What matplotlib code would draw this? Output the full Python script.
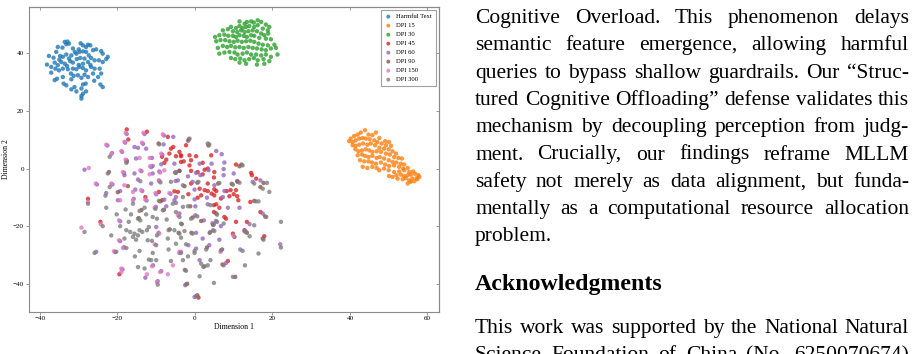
import numpy as np
import matplotlib
matplotlib.use("Agg")
import matplotlib.pyplot as plt
from matplotlib.transforms import IdentityTransform

plt.rcParams['font.family'] = ['Liberation Serif', 'DejaVu Serif']

# t-SNE points (Dimension 1, Dimension 2)
harmful_text = [
    (-33.6, 44.0), (-32.9, 44.1), (-33.2, 43.2), (-32.5, 43.4), (-35.4, 42.2), (-34.2, 42.0),
    (-31.5, 41.7), (-30.0, 41.4), (-28.9, 42.8), (-28.1, 42.2), (-27.6, 43.0), (-27.0, 42.8),
    (-26.3, 41.1), (-25.5, 41.4), (-24.2, 40.8), (-23.8, 39.9), (-22.5, 38.8), (-22.9, 38.0),
    (-37.7, 39.1), (-35.8, 40.5), (-34.8, 39.1), (-34.1, 38.8), (-33.2, 39.6), (-32.5, 38.2),
    (-31.9, 39.3), (-30.6, 39.9), (-29.8, 40.5), (-28.9, 40.7), (-28.1, 40.5), (-27.4, 39.3),
    (-26.8, 38.4), (-25.9, 37.6), (-24.8, 37.6), (-23.8, 37.0), (-38.2, 36.1), (-37.1, 35.3),
    (-36.2, 36.8), (-35.4, 35.9), (-34.5, 37.0), (-33.6, 36.4), (-33.0, 35.6), (-32.2, 37.3),
    (-31.5, 36.8), (-30.5, 38.0), (-29.6, 38.4), (-28.5, 38.2), (-28.9, 36.4), (-27.6, 37.0),
    (-37.1, 33.3), (-36.0, 34.7), (-35.1, 34.1), (-34.1, 34.7), (-32.8, 34.5), (-31.5, 34.7),
    (-30.6, 34.5), (-29.8, 35.3), (-28.9, 34.9), (-28.1, 34.1), (-26.8, 35.3), (-25.9, 34.7),
    (-24.6, 34.7), (-24.2, 33.0), (-25.0, 31.8), (-26.3, 33.0), (-36.2, 30.7), (-35.6, 31.2),
    (-34.1, 31.8), (-33.9, 29.5), (-33.2, 28.9), (-31.9, 31.0), (-31.3, 32.2), (-30.2, 32.4),
    (-29.3, 31.5), (-28.5, 32.6), (-27.6, 31.8), (-31.1, 28.3), (-31.9, 27.5), (-30.6, 26.8),
    (-29.3, 27.8), (-28.9, 29.2), (-28.2, 29.5), (-28.1, 26.8), (-28.9, 26.0), (-29.3, 25.2),
    (-29.3, 24.3), (-24.4, 29.2), (-23.8, 28.3), (-36.5, 38.5), (-30.0, 36.0), (-27.0, 36.0),
    (-32.0, 33.0), (-26.0, 30.5), (-35.0, 37.8), (-31.0, 40.5), (-29.5, 43.5),
]

dpi_15 = [
    (40.2, 10.4), (41.1, 11.3), (42.0, 11.8), (42.8, 12.5), (43.9, 13.3), (44.8, 11.8), (45.8, 11.6),
    (46.7, 12.5), (47.6, 10.6), (49.1, 9.5), (50.1, 9.2), (39.8, 9.5), (40.7, 9.2), (41.5, 9.8),
    (42.4, 10.4), (43.3, 10.6), (44.1, 10.4), (45.1, 10.2), (46.3, 9.8), (47.1, 9.2), (48.2, 8.7),
    (49.3, 8.1), (50.6, 7.9), (40.7, 8.1), (41.5, 7.9), (42.4, 8.3), (43.4, 8.7), (44.5, 8.3),
    (45.4, 8.7), (46.5, 8.1), (47.6, 7.2), (48.8, 6.9), (50.0, 6.7), (51.0, 6.0), (51.9, 5.2),
    (41.4, 6.7), (42.2, 6.0), (43.1, 6.3), (44.1, 6.7), (45.0, 6.3), (45.8, 5.8), (46.9, 6.0),
    (48.0, 5.8), (49.3, 5.2), (50.3, 4.9), (51.4, 4.0), (52.5, 3.7), (53.4, 3.5), (42.0, 4.6),
    (43.1, 4.9), (43.9, 4.4), (44.8, 4.0), (45.8, 4.4), (46.9, 3.7), (47.7, 4.0), (48.8, 3.5),
    (50.0, 2.9), (51.0, 2.3), (52.0, 2.1), (53.1, 1.7), (54.0, 1.4), (42.6, 2.9), (43.7, 2.5),
    (44.8, 2.5), (45.7, 2.1), (46.7, 1.7), (48.0, 2.1), (49.1, 1.4), (50.1, 0.9), (51.4, 1.1),
    (52.7, 0.6), (53.7, 0.0), (54.9, 0.2), (43.3, 0.6), (44.5, 0.2), (45.8, 0.6), (46.9, 0.2),
    (47.6, -0.6), (48.8, 0.0), (50.0, -0.6), (51.4, -1.2), (52.7, -1.0), (54.0, -0.6), (55.3, -1.2),
    (56.3, -1.0), (50.1, -2.6), (51.0, -2.9), (52.0, -2.3), (53.1, -2.1), (54.0, -2.6), (54.9, -2.3),
    (55.7, -2.1), (56.8, -1.8), (57.7, -2.3), (52.3, -3.5), (53.6, -3.7), (54.4, -3.3), (55.3, -4.1),
    (56.1, -3.5), (57.2, -3.3), (57.9, -2.9), (54.9, -5.2), (55.7, -4.6), (56.6, -4.4), (57.4, -3.7),
]

dpi_30 = [
    (11.5, 51.1), (12.8, 50.3), (13.4, 50.9), (14.5, 51.1), (15.2, 50.7), (16.2, 51.5), (17.1, 50.9),
    (18.3, 50.0), (19.2, 49.2), (9.3, 49.2), (10.6, 48.8), (11.5, 49.5), (12.3, 48.8), (13.2, 49.2),
    (14.0, 49.5), (15.3, 49.2), (16.2, 49.8), (17.5, 48.6), (18.8, 48.0), (7.2, 48.0), (8.5, 48.4),
    (9.8, 47.7), (10.9, 47.4), (11.9, 48.0), (12.8, 47.4), (13.8, 47.7), (14.9, 48.0), (16.0, 47.7),
    (17.1, 46.9), (17.9, 46.3), (18.9, 46.9), (5.2, 45.7), (6.3, 46.3), (7.6, 46.5), (8.6, 46.1),
    (9.8, 46.1), (10.6, 45.7), (11.5, 46.3), (12.6, 46.1), (13.4, 45.7), (14.5, 46.3), (15.3, 46.1),
    (16.6, 45.4), (18.3, 45.1), (19.6, 44.9), (5.5, 44.2), (6.6, 44.6), (7.8, 44.6), (8.9, 44.2),
    (10.0, 44.0), (11.0, 44.4), (12.1, 44.0), (13.2, 44.2), (14.3, 44.4), (15.3, 44.0), (16.4, 43.4),
    (17.5, 43.0), (18.8, 42.8), (20.5, 43.0), (5.9, 41.9), (7.2, 42.6), (8.3, 42.2), (9.3, 42.6),
    (10.4, 42.1), (11.5, 42.2), (12.6, 41.9), (13.8, 42.2), (14.9, 41.9), (16.0, 41.7), (17.2, 41.4),
    (18.3, 41.1), (19.6, 41.7), (20.9, 41.9), (6.3, 39.9), (7.6, 40.3), (8.9, 40.5), (10.2, 40.3),
    (11.0, 39.6), (12.3, 39.9), (13.4, 40.3), (14.5, 39.6), (15.8, 39.6), (17.1, 39.3), (18.3, 39.6),
    (19.6, 38.8), (21.3, 39.6), (9.3, 38.4), (10.4, 38.0), (11.7, 38.2), (12.8, 37.6), (14.0, 38.0),
    (15.2, 38.4), (16.2, 37.6), (17.7, 38.0), (19.2, 37.3), (11.5, 36.8), (13.2, 36.4), (16.0, 36.1),
    (17.9, 36.4),
]

dpi_45 = [
    (-17.6, 13.6), (-12.4, 12.8), (-7.0, 11.0), (-17.2, 10.1), (-6.6, 5.2), (-6.2, 6.9), (-5.6, 7.5),
    (-4.0, 5.8), (-3.6, 4.6), (-8.5, 4.1), (-7.4, 3.1), (-7.9, 2.0), (-3.6, 2.3), (-9.3, -8.1),
    (-5.3, -7.9), (-27.6, -10.5), (-12.8, -9.9), (-8.5, -11.0), (-24.4, -18.5), (-19.5, -36.7),
    (-2.3, 8.1), (-3.6, 4.3), (-4.9, 4.3), (-1.4, 4.6), (0.3, 4.3), (4.2, 4.6), (-2.9, 2.5),
    (-1.0, 2.9), (2.0, 2.0), (10.6, 1.4), (-1.4, 1.1), (-1.0, -0.8), (0.7, -1.2), (2.5, -0.4),
    (3.3, 0.0), (5.0, -1.2), (14.5, -1.5), (14.7, -2.3), (15.8, -3.5), (2.0, -2.0), (4.9, -3.1),
    (-1.0, -5.2), (3.3, -5.2), (-4.4, -8.1), (-1.7, -8.9), (1.2, -7.0), (2.5, -7.5), (3.3, -7.8),
    (5.0, -7.2), (5.5, -7.8), (8.2, -7.8), (9.2, -7.5), (10.6, -7.5), (0.7, -10.1), (1.6, -9.3),
    (4.3, -8.7), (5.0, -9.3), (6.7, -10.4), (8.9, -9.6), (10.0, -8.9), (10.9, -9.6), (11.2, -11.0),
    (14.3, -11.6), (4.9, -12.7), (5.5, -12.4), (6.3, -13.6), (4.9, -15.1), (7.6, -16.8), (8.0, -17.4),
    (16.9, -15.1), (10.6, -18.5), (13.4, -18.5), (9.8, -22.6), (12.8, -21.4), (17.9, -23.5),
    (8.5, -32.1), (0.9, -44.8),
]

dpi_60 = [
    (-5.6, 11.0), (-22.6, 8.0), (-8.1, 8.4), (-21.4, 5.4), (-15.6, 7.5), (-14.7, 7.2), (-12.6, 6.9),
    (-11.1, 3.7), (-15.2, 3.5), (-10.9, 0.9), (-8.7, 1.5), (-5.3, 1.7), (-28.5, -0.4), (-18.2, -2.3),
    (-15.6, -1.7), (-10.9, -1.7), (-4.0, -0.8), (-14.7, -3.8), (-11.3, -5.2), (-5.0, -4.3),
    (-22.9, -8.5), (-19.3, -7.8), (-15.4, -7.3), (-19.9, -11.0), (-15.8, -10.5), (-7.9, -10.8),
    (-4.9, -11.9), (-7.4, -13.1), (-10.0, -20.3), (-25.5, -28.9), (-4.0, -29.3), (-12.8, -37.9),
    (-1.8, 9.6), (3.3, 8.7), (5.5, 6.1), (6.9, 5.0), (1.2, 1.7), (4.3, 1.7), (7.6, 2.1), (0.3, -1.5),
    (3.5, -0.6), (7.4, -0.2), (10.0, -1.7), (-1.8, -2.7), (1.4, -2.3), (7.4, -2.3), (10.9, -4.3),
    (14.9, -4.6), (16.9, -4.1), (-4.4, -4.1), (-0.6, -4.6), (5.0, -5.8), (-0.1, -7.3), (7.6, -7.8),
    (-4.9, -9.9), (-5.3, -11.0), (-0.1, -10.7), (3.1, -10.1), (7.2, -9.9), (0.1, -13.1), (3.3, -12.4),
    (8.5, -13.6), (11.5, -13.6), (-4.0, -15.6), (0.1, -16.2), (17.5, -15.6), (2.3, -18.0), (4.5, -19.0),
    (5.4, -18.2), (6.7, -20.0), (14.1, -19.3), (0.3, -22.3), (4.7, -21.4), (12.8, -21.8), (2.0, -24.3),
    (6.3, -24.7), (-1.7, -26.6), (0.3, -27.8), (3.7, -26.6), (11.7, -28.1), (22.0, -26.3), (1.2, -31.8),
    (8.0, -32.8), (-2.5, -40.5), (-0.1, -44.6),
    (-17.6, 12.0), (-13.0, 12.0), (-8.0, 11.5), (-18.0, 9.0), (-13.4, 8.6), (-18.8, 5.8), (-8.4, 4.8),
    (-17.6, 2.8), (-11.3, 0.5), (-18.3, -1.5), (-13.8, -0.9), (-9.2, -1.0), (-25.3, -5.5), (-21.3, -5.5),
    (-9.3, -4.1), (-13.6, -7.8), (-10.0, -8.9), (-6.3, -8.8), (-12.5, -11.1), (-10.1, -13.3),
    (-19.3, -18.3), (-9.4, -22.3), (-19.3, -25.2), (-20.6, -29.0), (-18.3, -27.3), (-10.8, -33.6),
    (-18.7, -35.0), (-8.7, -35.6), (-9.6, -39.1),
]

dpi_90 = [
    (-17.6, 2.4), (-22.2, -1.2), (-17.3, -6.1), (-19.9, -8.2), (-9.0, -11.4), (-14.5, -17.2),
    (11.5, 0.8), (-4.0, -0.8), (11.0, -4.6), (17.7, -5.0), (0.6, -4.9), (6.0, -5.2), (-2.7, -6.1),
    (16.9, -6.4), (15.3, -11.2), (-1.2, -13.1), (-0.6, -17.0), (5.5, -15.6), (18.1, -16.6), (1.6, -18.2),
    (10.2, -23.7), (17.5, -24.3), (3.1, -27.4), (7.0, -28.1), (10.4, -37.6),
    (-9.4, 8.7), (-1.6, 10.1), (3.5, 8.0), (12.0, 1.4), (-5.1, -1.4), (9.5, -5.3), (-3.4, -19.3),
    (4.7, -19.6), (-0.9, -22.3), (3.8, -22.3), (13.4, -22.3), (2.2, -34.1), (7.1, -33.3), (-2.6, -35.2),
    (-2.0, -40.0), (0.6, -44.0), (-8.0, -14.3), (-13.8, -14.4), (-6.5, -21.1), (-4.2, -22.3),
]

dpi_150 = [
    (-17.9, 12.4), (-13.3, 12.4), (-8.3, 11.9), (-22.9, 8.3), (-18.2, 9.3), (-13.7, 9.0), (-21.6, 5.0),
    (-19.0, 6.1), (-11.7, 3.7), (-8.7, 5.2), (-17.9, 3.1), (-14.3, 3.7), (-11.6, 0.8), (-27.4, 0.2),
    (-18.6, -1.2), (-14.1, -0.6), (-11.7, -2.0), (-9.0, -1.4), (-7.9, -0.6), (-25.6, -5.2),
    (-21.6, -5.2), (-18.2, -5.8), (-9.2, -4.4), (-16.0, -8.1), (-13.9, -7.5), (-10.2, -8.5),
    (-6.6, -8.5), (-27.6, -11.6), (-19.3, -11.0), (-16.0, -11.0), (-12.8, -10.8), (-10.4, -13.6),
    (-24.3, -19.3), (-19.6, -18.0), (-29.3, -20.5), (-9.2, -22.6), (-19.6, -24.9), (-10.4, -26.3),
    (-3.6, -28.9), (-20.9, -28.7), (-18.6, -27.6), (-11.1, -33.9), (-5.7, -33.6), (-19.0, -34.7),
    (-19.0, -35.9), (-9.0, -35.9), (-7.0, -36.7), (-12.4, -36.7), (-9.8, -39.4),
    (-4.4, -16.2), (9.9, -23.3), (6.6, -28.9), (-4.0, -28.9),
]

dpi_300 = [
    (-9.2, 8.4), (-22.0, 4.1), (-17.7, 2.0), (-22.5, -1.7), (-4.9, -1.5), (-22.0, -6.4), (-14.1, -4.4),
    (-8.9, -4.8), (-6.2, -4.6), (-23.1, -9.4), (-3.1, -9.9), (-27.6, -12.2), (-22.9, -13.6),
    (-16.0, -12.2), (-9.3, -11.2), (-5.7, -12.2), (-3.1, -13.3), (-20.2, -15.9), (-17.9, -14.2),
    (-16.5, -15.9), (-14.3, -14.7), (-13.0, -13.6), (-10.2, -14.0), (-8.3, -14.5), (-4.9, -15.1),
    (-23.8, -20.0), (-17.1, -18.5), (-14.7, -17.4), (-14.1, -18.0), (-12.6, -15.9), (-10.9, -16.8),
    (-9.8, -17.4), (-7.3, -17.7), (-4.0, -16.8), (-28.5, -22.0), (-21.6, -23.2), (-19.3, -20.0),
    (-17.7, -21.4), (-16.7, -22.0), (-15.6, -22.6), (-16.0, -23.7), (-14.3, -21.4), (-13.6, -22.0),
    (-14.7, -23.2), (-11.9, -20.3), (-12.4, -21.4), (-9.8, -23.2), (-6.8, -21.4), (-7.0, -24.3),
    (-4.0, -22.6), (-18.2, -24.3), (-15.2, -24.7), (-12.2, -24.9), (-11.1, -25.1), (-10.0, -26.6),
    (-6.8, -28.1), (-4.9, -26.1), (-25.9, -29.3), (-20.3, -28.9), (-17.7, -27.6), (-14.3, -28.6),
    (-10.9, -29.3), (-15.5, -30.5), (-11.9, -31.6), (-11.3, -31.8), (-10.0, -31.8), (-6.2, -32.1),
    (-3.1, -31.8), (-14.7, -34.2), (-13.0, -34.7), (-9.6, -40.3),
    (-1.4, 10.4), (3.7, 8.4), (12.3, 1.1), (-4.9, -1.2), (11.5, -4.9), (15.3, -5.2), (18.6, -5.0),
    (0.9, -4.6), (6.3, -5.0), (9.8, -5.6), (-3.1, -5.8), (17.5, -7.0), (19.2, -8.1), (15.7, -11.4),
    (16.4, -11.4), (-1.8, -13.1), (4.0, -12.7), (-1.0, -17.4), (0.6, -16.6), (5.7, -16.0), (18.4, -16.8),
    (-3.6, -19.1), (4.9, -19.3), (5.7, -18.5), (7.4, -19.1), (15.3, -19.7), (22.2, -18.5), (-5.3, -21.4),
    (-2.7, -21.7), (-0.6, -22.6), (4.0, -22.0), (5.0, -21.7), (13.2, -22.0), (14.1, -23.5), (17.7, -24.7),
    (-3.6, -24.0), (-2.3, -26.3), (-0.1, -28.6), (2.9, -28.1), (6.7, -28.4), (12.3, -28.6), (22.2, -27.4),
    (-3.6, -29.3), (-1.8, -30.5), (-0.1, -29.3), (1.6, -33.0), (4.0, -31.8), (3.3, -33.6), (2.5, -33.9),
    (7.4, -33.6), (16.4, -29.5), (12.9, -33.6), (-2.3, -35.5), (1.2, -37.4), (9.8, -37.6), (-2.3, -40.2),
    (4.9, -39.7), (0.3, -44.3),
]

series_labels = ["Harmful Text", "DPI 15", "DPI 30", "DPI 45", "DPI 60", "DPI 90", "DPI 150", "DPI 300"]
series_points = [harmful_text, dpi_15, dpi_30, dpi_45, dpi_60, dpi_90, dpi_150, dpi_300]
series_colors = ["#1f77b4", "#ff7f0e", "#2ca02c", "#d62728", "#9467bd", "#8c564b", "#e377c2", "#7f7f7f"]

xticks = [-40, -20, 0, 20, 40, 60]
yticks = [-40, -20, 0, 20, 40]

body_lines = [
    "Cognitive Overload.  This phenomenon delays",
    "semantic feature emergence, allowing harmful",
    "queries to bypass shallow guardrails. Our \u201cStruc-",
    "tured Cognitive Offloading\u201d defense validates this",
    "mechanism by decoupling perception from judg-",
    "ment.  Crucially, our findings reframe MLLM",
    "safety not merely as data alignment, but funda-",
    "mentally as a computational resource allocation",
    "problem.",
]
heading = "Acknowledgments"
ack_lines = [
    "This work was supported by the National Natural",
    "Science Foundation of China (No. 6250070674)",
]

spine_c = "#8a8a8a"

fig = plt.figure(figsize=(9.21, 3.54), dpi=100)
ax = fig.add_axes([0.0312, 0.1195, 0.4455, 0.8615])

for label, pts, color in zip(series_labels, series_points, series_colors):
    pts = np.array(pts)
    ax.scatter(pts[:, 0], pts[:, 1], s=10, c=color, alpha=0.8,
               edgecolors="none", label=label)

ax.set_xlim(-42.9, 63)
ax.set_ylim(-49.7, 56.2)
ax.set_xticks(xticks)
ax.set_yticks(yticks)
ax.tick_params(labelsize=5, length=2.2, width=0.6, color=spine_c, pad=1.2)
for sp in ax.spines.values():
    sp.set_color(spine_c)
    sp.set_linewidth(0.8)
ax.set_xlabel("Dimension 1", fontsize=5.6, labelpad=1)
ax.set_ylabel("Dimension 2", fontsize=5.6, labelpad=2)

# ticks on top/right point inward
top = ax.secondary_xaxis("top")
top.set_xticks(xticks)
top.tick_params(direction="in", labeltop=False, length=2.2, width=0.6, color=spine_c)
right = ax.secondary_yaxis("right")
right.set_yticks(yticks)
right.tick_params(direction="in", labelright=False, length=2.2, width=0.6, color=spine_c)
for sec in (top, right):
    for sp in sec.spines.values():
        sp.set_color(spine_c)
        sp.set_linewidth(0.8)

leg = ax.legend(loc="upper right", fontsize=4.8, frameon=True, fancybox=False,
                edgecolor=spine_c, handlelength=1.0, handletextpad=0.7,
                labelspacing=0.5, borderpad=0.6, borderaxespad=0.45, markerscale=0.9)
leg.get_frame().set_linewidth(0.8)

# paper text on the right, justified line by line
H = 354
renderer = fig.canvas.get_renderer()
x0, x1 = 475, 909


def put_line(text, baseline, justify=True, **kw):
    words = text.split()
    items = [fig.text(0, H - baseline, w, transform=IdentityTransform(),
                      va="baseline", ha="left", **kw) for w in words]
    widths = [t.get_window_extent(renderer).width for t in items]
    if justify and len(words) > 1:
        gap = (x1 - x0 - sum(widths)) / (len(words) - 1)
    else:
        space = fig.text(0, 0, "a a", transform=IdentityTransform(), **kw)
        aa = fig.text(0, 0, "aa", transform=IdentityTransform(), **kw)
        gap = space.get_window_extent(renderer).width - aa.get_window_extent(renderer).width
        space.remove()
        aa.remove()
    x = x0
    for t, w in zip(items, widths):
        t.set_x(x)
        x += w + gap


body_size = 15.5
for i, line in enumerate(body_lines):
    put_line(line, 23 + i * 27.3, justify=(i < len(body_lines) - 1), fontsize=body_size)

fig.text(x0, H - 290, heading, transform=IdentityTransform(), va="baseline",
         ha="left", fontsize=17.2, fontweight="bold")

for i, line in enumerate(ack_lines):
    put_line(line, 333 + i * 27, fontsize=body_size)

fig.savefig("out.png", dpi=100)
